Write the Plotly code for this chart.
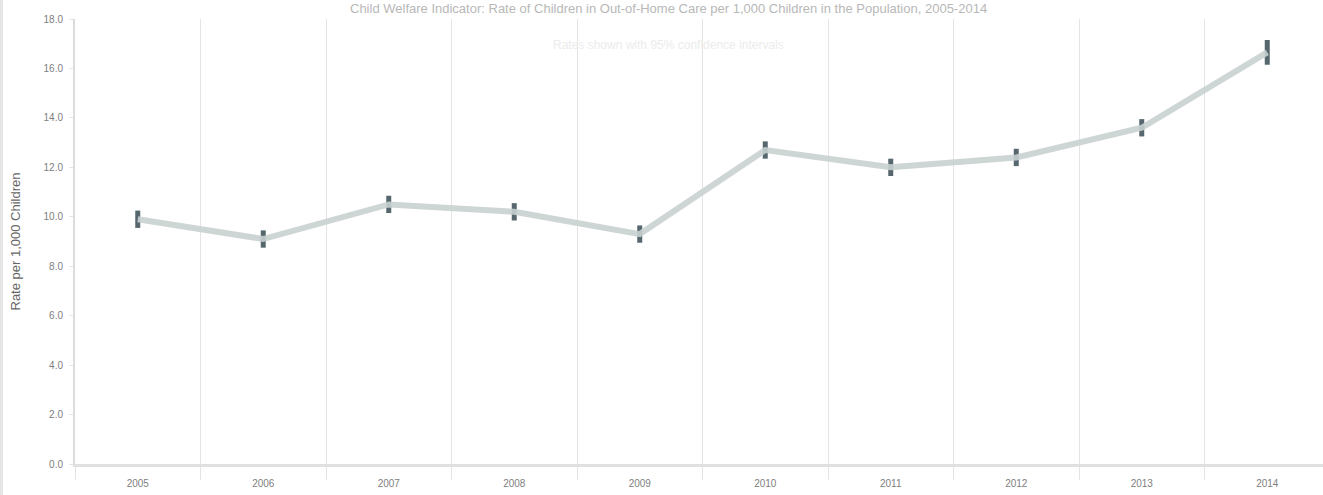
import plotly.graph_objects as go

# Annual rates with confidence limits
years = ["2005", "2006", "2007", "2008", "2009", "2010", "2011", "2012", "2013", "2014"]
rate = [9.9, 9.1, 10.5, 10.2, 9.3, 12.7, 12.0, 12.4, 13.6, 16.65]
ci_half = [0.35, 0.35, 0.35, 0.35, 0.35, 0.35, 0.35, 0.35, 0.35, 0.5]
y_ticks = [0, 2, 4, 6, 8, 10, 12, 14, 16, 18]

title_line1 = ("Child Welfare Indicator: Rate of Children in Out-of-Home Care "
               "per 1,000 Children in the Population, 2005-2014")
title_line2 = "Rates shown with 95% confidence intervals"
y_title = "Rate per 1,000 Children"

W, H = 1323, 495
ML, MR, MT, MB = 75, 0, 19, 31
plot_w = W - ML - MR
cat_px = 125.5

fig = go.Figure()

fig.add_trace(go.Scatter(
    x=years,
    y=rate,
    mode="lines",
    line=dict(color="rgba(200,208,208,0.9)", width=6),
    error_y=dict(type="data", array=ci_half, visible=True,
                 color="#56676e", thickness=5, width=0),
    hoverinfo="x+y",
    showlegend=False,
))

fig.update_layout(
    width=W,
    height=H,
    margin=dict(l=ML, r=MR, t=MT, b=MB),
    paper_bgcolor="white",
    plot_bgcolor="white",
    font=dict(family="Liberation Sans, Arial, sans-serif", color="#777"),
    xaxis=dict(
        type="category",
        range=[-0.5, -0.5 + plot_w / cat_px],
        showgrid=True,
        gridcolor="#e4e4e4",
        gridwidth=1,
        tickson="boundaries",
        ticks="outside",
        ticklen=13,
        tickcolor="#e4e4e4",
        ticklabelstandoff=8,
        showline=True,
        linecolor="#e0e0e0",
        linewidth=3,
        tickfont=dict(size=10, color="#808080"),
        zeroline=False,
    ),
    yaxis=dict(
        range=[0, 18],
        tickvals=y_ticks,
        tickformat=".1f",
        showgrid=False,
        zeroline=False,
        showline=True,
        linecolor="#dcdcdc",
        linewidth=2,
        ticks="outside",
        ticklen=4,
        tickcolor="#e4e4e4",
        ticklabelstandoff=4,
        tickfont=dict(size=10, color="#808080"),
        title=dict(text=y_title, font=dict(size=13, color="#666"), standoff=20),
    ),
)

# Two-line heading above the plot area
fig.add_annotation(
    text=title_line1, xref="paper", yref="paper",
    x=(668 - ML) / plot_w, y=1, yshift=11, yanchor="middle", showarrow=False,
    font=dict(size=13, color="#b8b8b8"),
)
fig.add_annotation(
    text=title_line2, xref="paper", yref="paper",
    x=(668 - ML) / plot_w, y=1, yshift=-26, yanchor="middle", showarrow=False,
    font=dict(size=12, color="#ececec"),
)

# Thin grey border along the left edge of the page
fig.add_shape(
    type="rect", xref="paper", yref="paper",
    x0=-ML / plot_w, x1=(3 - ML) / plot_w, y0=-MB / (H - MT - MB), y1=1 + MT / (H - MT - MB),
    fillcolor="#e6e6e6", line=dict(width=0), layer="below",
)

fig.write_html("out.html")
